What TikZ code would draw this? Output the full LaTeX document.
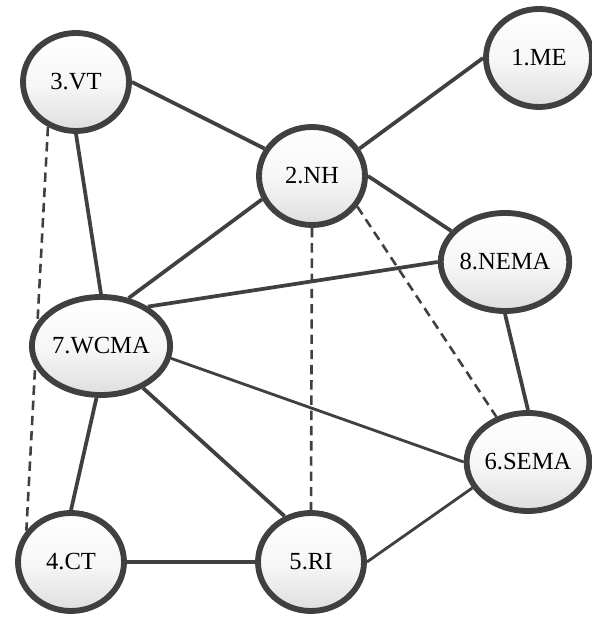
\documentclass[tikz,border=0pt]{standalone}
\usepackage{fontspec}
\setmainfont{Liberation Serif}
\usetikzlibrary{shapes.geometric, backgrounds}
\definecolor{edgegray}{RGB}{64, 64, 64}
\definecolor{shadedark}{RGB}{222, 222, 222}
\definecolor{shademid}{RGB}{246, 246, 246}
\definecolor{shadowgray}{RGB}{215, 215, 215}
\pgfdeclareverticalshading{regionshade}{100bp}{color(0bp)=(shadedark); color(25bp)=(shadedark);
  color(48bp)=(shademid); color(75bp)=(white); color(100bp)=(white)}

\begin{document}
\begin{tikzpicture}[
  region/.style={ellipse, draw=edgegray, line width=5pt, shading=regionshade,
    minimum width=3.18cm, minimum height=2.94cm, inner sep=0pt,
    font=\fontsize{21}{24}\selectfont,
    preaction={fill=shadowgray, transform canvas={xshift=1.5pt, yshift=-1.5pt}}},
  link/.style={draw=edgegray, line width=3.2pt},
  thinlink/.style={draw=edgegray, line width=2.4pt},
  dashlink/.style={draw=edgegray, line width=2.2pt, dash pattern=on 8pt off 5pt}
]
  \useasboundingbox (0,0) rectangle (17.76,18.51);

  % 区域节点
  \node[region] (me)   at (16.17,16.77) {1.ME};
  \node[region] (nh)   at ( 9.36,13.23) {2.NH};
  \node[region] (vt)   at ( 2.28,16.05) {3.VT};
  \node[region] (ct)   at ( 2.13, 1.65) {4.CT};
  \node[region] (ri)   at ( 9.33, 1.65) {5.RI};
  \node[region] (sema) at (15.84, 4.65) {6.SEMA};
  \node[region] (wcma) at ( 3.03, 8.13) {7.WCMA};
  \node[region] (nema) at (15.15,10.65) {8.NEMA};

  \begin{scope}[on background layer]
    % 实线连接
    \draw[link] (nh.30) -- (me.west);
    \draw[link] (vt.east) -- (nh.150);
    \draw[link] (vt.south) -- (wcma.north);
    \draw[link] (nh.205) -- (wcma.60);
    \draw[link] (nh.east) -- (nema.150);
    \draw[link] (wcma.40) -- (nema.west);
    \draw[link] (nema.south) -- (sema.north);
    \draw[link] (wcma.-45) -- (ri.120);
    \draw[link] (wcma.-95) -- (ct.north);
    \draw[link] (ct.east) -- (ri.west);
    \draw[thinlink] (wcma.-10) -- (sema.west);
    \draw[thinlink] (ri.east) -- (sema.205);

    % 虚线连接
    \draw[dashlink] (vt.-122) -- (ct.145);
    \draw[dashlink] (nh.south) -- (ri.north);
    \draw[dashlink] (nh.-34) -- (sema.125);
  \end{scope}
\end{tikzpicture}
\end{document}
